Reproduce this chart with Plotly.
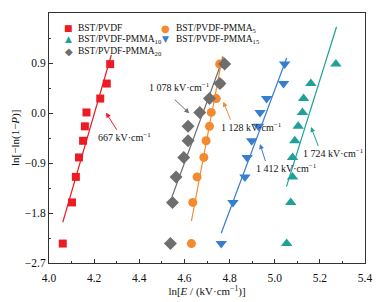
import plotly.graph_objects as go

# ---- data ----
weibull_y = [-2.35, -1.61, -1.15, -0.80, -0.50, -0.24, 0.01, 0.26, 0.53, 0.88]

x_pvdf = [4.061, 4.102, 4.119, 4.133, 4.151, 4.159, 4.166, 4.227, 4.256, 4.271]
x_pmma5 = [4.631, 4.637, 4.656, 4.686, 4.696, 4.711, 4.719, 4.741, 4.760, 4.756]
x_pmma10 = [5.053, 5.071, 5.079, 5.079, 5.089, 5.104, 5.123, 5.128, 5.160, 5.271]
x_pmma15 = [4.763, 4.815, 4.868, 4.878, 4.898, 4.928, 4.935, 4.964, 5.039, 5.044]
x_pmma20 = [4.538, 4.547, 4.563, 4.597, 4.616, 4.616, 4.668, 4.711, 4.757, 4.778]

# fitted Weibull lines (end points)
fit_pvdf_x, fit_pvdf_y = [4.061, 4.276], [-1.967, 1.044]
fit_pmma5_x, fit_pmma5_y = [4.631, 4.769], [-1.944, 1.026]
fit_pmma10_x, fit_pmma10_y = [5.052, 5.274], [-1.326, 1.553]
fit_pmma15_x, fit_pmma15_y = [4.763, 5.053], [-2.165, 0.99]
fit_pmma20_x, fit_pmma20_y = [4.545, 4.773], [-1.507, 1.008]

series_names = ["BST/PVDF", "BST/PVDF-PMMA<sub>5</sub>", "BST/PVDF-PMMA<sub>10</sub>",
                "BST/PVDF-PMMA<sub>15</sub>", "BST/PVDF-PMMA<sub>20</sub>"]
breakdown_labels = ["667 kV\u00b7cm<sup>\u22121</sup>", "1 128 kV\u00b7cm<sup>\u22121</sup>",
                    "1 724 kV\u00b7cm<sup>\u22121</sup>", "1 412 kV\u00b7cm<sup>\u22121</sup>",
                    "1 078 kV\u00b7cm<sup>\u22121</sup>"]
# label left-edge / centre and arrow-head positions (data coords)
label_x = [4.207, 4.753, 5.117, 4.908, 4.434]
label_y = [-0.43, -0.25, -0.72, -0.99, 0.47]
arrow_x = [4.2525, 4.7723, 5.1608, 4.9349, 4.6216]
arrow_y = [0.005, 0.203, -0.252, -0.558, -0.005]

x_ticks = [4.0, 4.2, 4.4, 4.6, 4.8, 5.0, 5.2, 5.4]
y_ticks = [-2.7, -1.8, -0.9, 0.0, 0.9, 1.8]

# ---- styling ----
colors = ["#ec1c24", "#f5892f", "#1fa197", "#377ecf", "#6e6e6e"]
symbols = ["square", "circle", "triangle-up", "triangle-down", "diamond"]
msizes = [8, 9, 10, 10, 10]
glyphs = ["\u25a0", "\u25cf", "\u25b2", "\u25bc", "\u25c6"]
glyph_sizes = [9, 10, 9, 9, 10]
arrow_off = [(12, 19), (8, 20), (8, 21), (6, 19), (-16, -15)]
FONT = "Liberation Serif"

xs = [x_pvdf, x_pmma5, x_pmma10, x_pmma15, x_pmma20]
fits = [(fit_pvdf_x, fit_pvdf_y), (fit_pmma5_x, fit_pmma5_y), (fit_pmma10_x, fit_pmma10_y),
        (fit_pmma15_x, fit_pmma15_y), (fit_pmma20_x, fit_pmma20_y)]

fig = go.Figure()
for i in range(5):
    fig.add_trace(go.Scatter(x=fits[i][0], y=fits[i][1], mode="lines",
                             line=dict(color=colors[i], width=1.2),
                             showlegend=False, hoverinfo="skip"))
for i in range(5):
    fig.add_trace(go.Scatter(x=xs[i], y=weibull_y, mode="markers", name=series_names[i],
                             marker=dict(symbol=symbols[i], size=msizes[i], color=colors[i],
                                         line=dict(width=0)),
                             showlegend=False))

annotations = []
for i in range(5):
    annotations.append(dict(x=label_x[i], y=label_y[i], xref="x", yref="y", text=breakdown_labels[i],
                            showarrow=False, xanchor="left", yanchor="middle",
                            font=dict(family=FONT, size=10, color="#111")))
    annotations.append(dict(x=arrow_x[i], y=arrow_y[i], xref="x", yref="y", text=" ",
                            font=dict(size=1), showarrow=True, ax=arrow_off[i][0], ay=arrow_off[i][1],
                            arrowcolor=colors[i], arrowwidth=1, arrowhead=2, arrowsize=1))

# manual two-column legend
leg_col_marker = [0.063, 0.370]
leg_col_text = [0.086, 0.396]
leg_rows = [0.940, 0.894, 0.848]
for i in range(5):
    col = i % 2
    row = i // 2
    annotations.append(dict(x=leg_col_marker[col], y=leg_rows[row], xref="paper", yref="paper",
                            text=glyphs[i], showarrow=False, xanchor="center", yanchor="middle",
                            font=dict(family="DejaVu Sans", size=glyph_sizes[i], color=colors[i])))
    annotations.append(dict(x=leg_col_text[col], y=leg_rows[row], xref="paper", yref="paper",
                            text=series_names[i], showarrow=False, xanchor="left", yanchor="middle",
                            font=dict(family=FONT, size=9.5, color="#111")))

# y-axis title as a rotated annotation
annotations.append(dict(x=0, y=0.5, xref="paper", yref="paper", xshift=-34,
                        text="ln[\u2212ln(1\u2212<i>P</i>)]", textangle=-90, showarrow=False,
                        xanchor="center", yanchor="middle",
                        font=dict(family=FONT, size=11, color="#111")))

axis_common = dict(showgrid=False, zeroline=False, showline=True, mirror=True,
                   linecolor="#333", linewidth=1, ticks="inside", ticklen=4,
                   tickcolor="#333", tickwidth=1, automargin=False,
                   tickfont=dict(family=FONT, size=11.5, color="#111"))

# page body has an 8 px default margin, so the figure is sized to fit the window
fig.update_layout(
    width=373, height=294,
    margin=dict(l=41, r=16, t=5, b=39),
    paper_bgcolor="white", plot_bgcolor="white",
    annotations=annotations,
    xaxis=dict(range=[4.0, 5.4], tickvals=x_ticks, tickformat=".1f", ticklabelstandoff=4,
               minor=dict(dtick=0.1, ticks="inside", ticklen=2, tickcolor="#333"),
               title=dict(text="ln[<i>E</i> / (kV\u00b7cm<sup>\u22121</sup>)]",
                          font=dict(family=FONT, size=11, color="#111"), standoff=1),
               **axis_common),
    yaxis=dict(range=[-2.7, 1.8], tickvals=y_ticks, tickformat=".1f",
               minor=dict(dtick=0.45, tick0=0, ticks="inside", ticklen=2, tickcolor="#333"),
               **axis_common),
)

fig.write_html("out.html")
